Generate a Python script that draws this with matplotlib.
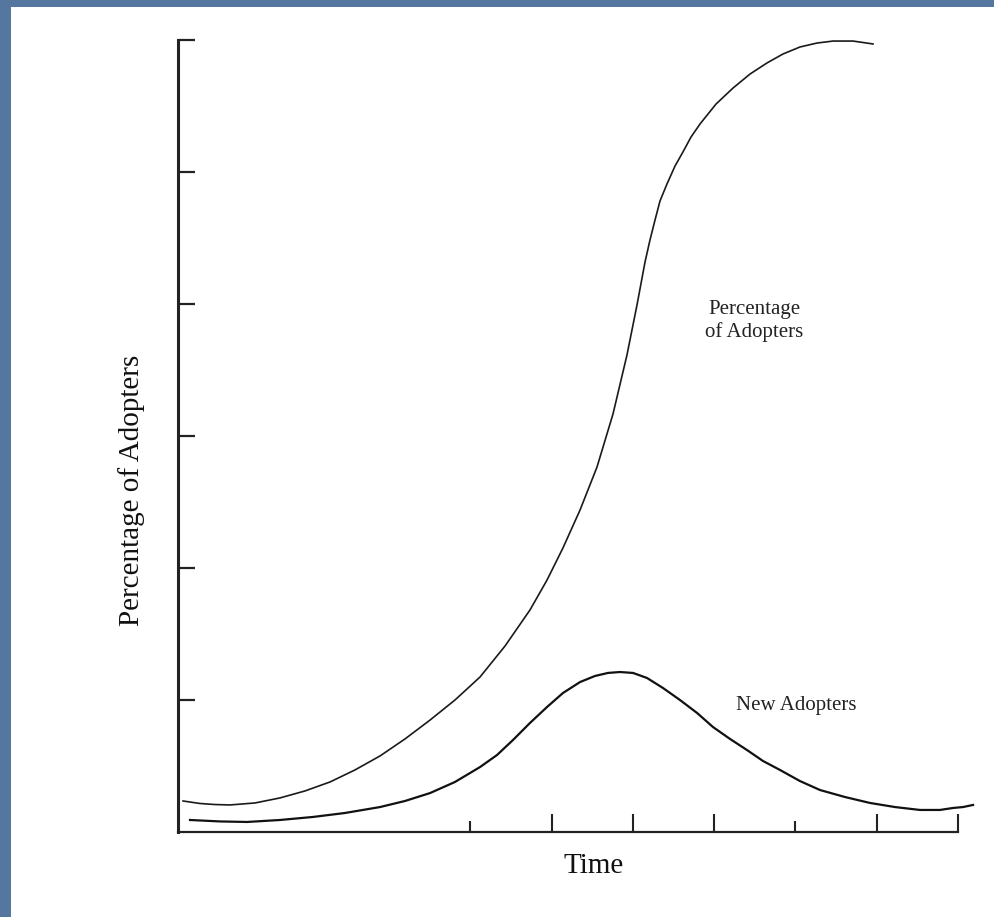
import matplotlib
matplotlib.use("Agg")
import matplotlib.pyplot as plt
from matplotlib.patches import Rectangle

plt.rcParams['font.family'] = ['Liberation Serif', 'DejaVu Serif']

# values (time units, y in tick units 0..6)
adopt_x = [0.462, 0.671, 0.855, 1.040, 1.348, 1.655, 1.963, 2.271, 2.578,
           2.886, 3.194, 3.502, 3.809, 4.117, 4.425, 4.732, 4.942, 5.138,
           5.348, 5.557, 5.754, 5.926, 6.049, 6.148, 6.209, 6.271, 6.332,
           6.418, 6.517, 6.615, 6.714, 6.825, 7.022, 7.231, 7.440, 7.649,
           7.846, 8.055, 8.265, 8.462, 8.708, 8.954]
adopt_y = [0.235, 0.216, 0.208, 0.205, 0.220, 0.258, 0.311, 0.379, 0.470,
           0.576, 0.705, 0.848, 1.000, 1.174, 1.409, 1.682, 1.909, 2.152,
           2.439, 2.765, 3.167, 3.614, 3.992, 4.318, 4.485, 4.636, 4.780,
           4.909, 5.045, 5.152, 5.265, 5.364, 5.515, 5.636, 5.742, 5.826,
           5.894, 5.947, 5.977, 5.992, 5.992, 5.970]

new_x = [0.548, 0.917, 1.249, 1.655, 2.062, 2.455, 2.886, 3.194, 3.502,
         3.809, 4.117, 4.326, 4.523, 4.732, 4.942, 5.138, 5.348, 5.532,
         5.692, 5.840, 6.000, 6.172, 6.369, 6.578, 6.788, 6.985, 7.194,
         7.403, 7.600, 7.809, 8.055, 8.302, 8.609, 8.917, 9.225, 9.532,
         9.778, 9.938, 10.062, 10.185]
new_y = [0.091, 0.080, 0.076, 0.091, 0.114, 0.144, 0.189, 0.235, 0.295,
         0.379, 0.492, 0.583, 0.697, 0.826, 0.947, 1.053, 1.136, 1.182,
         1.205, 1.212, 1.205, 1.167, 1.091, 1.000, 0.902, 0.795, 0.705,
         0.621, 0.538, 0.470, 0.386, 0.318, 0.265, 0.220, 0.189, 0.167,
         0.167, 0.182, 0.189, 0.205]

x_major = [5, 6, 7, 9, 10]
x_minor = [4, 8]
y_ticks = [1, 2, 3, 4, 5, 6]

fig = plt.figure(figsize=(9.95, 9.17), dpi=100)
fig.patch.set_facecolor('#55769f')
# white page over the blue background
fig.patches.append(Rectangle((11 / 995, 0), 1, 1 - 7 / 917, transform=fig.transFigure,
                             facecolor='white', edgecolor='none', zorder=-1))

ax = fig.add_axes([178 / 995, 85 / 917, 780 / 995, 792 / 917])
ax.set_zorder(2)
ax.set_facecolor('none')
ax.plot(adopt_x, adopt_y, color='#1a1a1a', lw=1.2, clip_on=False,
        solid_joinstyle='round')
ax.plot(new_x, new_y, color='#111111', lw=1.6, clip_on=False,
        solid_joinstyle='round')

ax.set_xlim(0.4, 10)
ax.set_ylim(0, 6)
for s in ['top', 'right']:
    ax.spines[s].set_visible(False)
ax.spines['left'].set_linewidth(2.2)
ax.spines['bottom'].set_linewidth(1.6)
ax.spines['left'].set_color('#222222')
ax.spines['bottom'].set_color('#222222')

ax.set_xticks(x_major)
ax.set_xticks(x_minor, minor=True)
ax.set_yticks(y_ticks)
ax.tick_params(axis='x', which='major', direction='in', length=13, width=1.5,
               color='#222222', labelbottom=False)
ax.tick_params(axis='x', which='minor', direction='in', length=8, width=1.5,
               color='#222222', labelbottom=False)
ax.tick_params(axis='y', direction='in', length=12, width=1.6,
               color='#222222', labelleft=False)

ax.text(7.49, 3.87, 'Percentage\nof Adopters', ha='center', va='center',
        fontsize=15, color='#222222')
ax.text(8.01, 0.955, 'New Adopters', ha='center', va='center',
        fontsize=15, color='#222222')

fig.text(594 / 995, 1 - 866 / 917, 'Time', ha='center', va='center',
         fontsize=21, color='#111111')
fig.text(132 / 995, 1 - 490 / 917, 'Percentage of Adopters', ha='center',
         va='center', rotation=90, fontsize=21, color='#111111')

fig.savefig('out.png', dpi=100, facecolor=fig.get_facecolor())
